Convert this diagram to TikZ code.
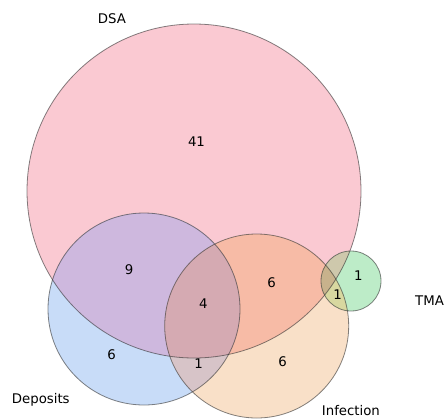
\documentclass[tikz,border=0pt]{standalone}
\usepackage{fontspec}
\setmainfont{DejaVu Sans}
\usepackage{xcolor}
\usepackage{tikz}
\usetikzlibrary{positioning,shapes.geometric}

% region colours
\definecolor{dsacol}{RGB}{250,201,210}
\definecolor{depcol}{RGB}{200,220,248}
\definecolor{infcol}{RGB}{249,224,200}
\definecolor{tmacol}{RGB}{189,236,200}
\definecolor{dsadep}{RGB}{206,184,222}
\definecolor{dsainf}{RGB}{247,187,166}
\definecolor{depinf}{RGB}{215,196,200}
\definecolor{dsadepinf}{RGB}{213,170,178}
\definecolor{dsatma}{RGB}{206,200,172}
\definecolor{inftma}{RGB}{216,216,160}
\definecolor{dsainftma}{RGB}{200,178,140}

\newcommand{\rdsa}{167pt}
\newcommand{\rdep}{96pt}
\newcommand{\rinf}{92pt}
\newcommand{\rtma}{30pt}

\begin{document}
\begin{tikzpicture}[
  x=1pt, y=-1pt,
  set/.style={circle,draw=black!80,line width=0.8pt,draw opacity=0.6,inner sep=0pt,outer sep=0pt},
  num/.style={font=\fontsize{13.3}{16}\selectfont,inner sep=0pt},
  lbl/.style={font=\fontsize{13.3}{16}\selectfont,inner sep=0pt,anchor=base west}
]
\useasboundingbox (0,0) rectangle (444,418);
\clip (0,0) rectangle (444,418);
% the four sets
\coordinate (dsa) at (194,191);
\coordinate (dep) at (144,309);
\coordinate (inf) at (256.7,326);
\coordinate (tma) at (351,281);
% single regions
\fill[dsacol] (dsa) circle[radius=\rdsa];
\fill[depcol] (dep) circle[radius=\rdep];
\fill[infcol] (inf) circle[radius=\rinf];
\fill[tmacol] (tma) circle[radius=\rtma];
% overlaps
\begin{scope}
  \clip (dsa) circle[radius=\rdsa];
  \fill[dsadep] (dep) circle[radius=\rdep];
  \fill[dsainf] (inf) circle[radius=\rinf];
  \fill[dsatma] (tma) circle[radius=\rtma];
\end{scope}
\begin{scope}
  \clip (dep) circle[radius=\rdep];
  \fill[depinf] (inf) circle[radius=\rinf];
  \clip (dsa) circle[radius=\rdsa];
  \fill[dsadepinf] (inf) circle[radius=\rinf];
\end{scope}
\begin{scope}
  \clip (inf) circle[radius=\rinf];
  \fill[inftma] (tma) circle[radius=\rtma];
  \clip (dsa) circle[radius=\rdsa];
  \fill[dsainftma] (tma) circle[radius=\rtma];
\end{scope}
% outlines
\node[set,minimum size=2*\rdsa] (cdsa) at (dsa) {};
\node[set,minimum size=2*\rdep] (cdep) at (dep) {};
\node[set,minimum size=2*\rinf] (cinf) at (inf) {};
\node[set,minimum size=2*\rtma] (ctma) at (tma) {};
% set names
\node[lbl] (ldsa) at (97.7,23.3) {DSA};
\node[lbl] (ldep) at (11.7,403.3) {Deposits};
\node[lbl] (linf) at (321.7,415) {Infection};
\node[lbl] (ltma) at (415,305.7) {TMA};
% region counts
\node[num] (n1) at (196.5,142) {41};
\node[num] (n2) at (129,270) {9};
\node[num] (n3) at (111.7,354.3) {6};
\node[num] (n4) at (203.3,304) {4};
\node[num] (n5) at (198.7,363.3) {1};
\node[num] (n6) at (271.7,282.3) {6};
\node[num] (n7) at (282.7,361.7) {6};
\node[num] (n8) at (358.3,276) {1};
\node[num] (n9) at (337.7,295) {1};
\end{tikzpicture}
\end{document}
